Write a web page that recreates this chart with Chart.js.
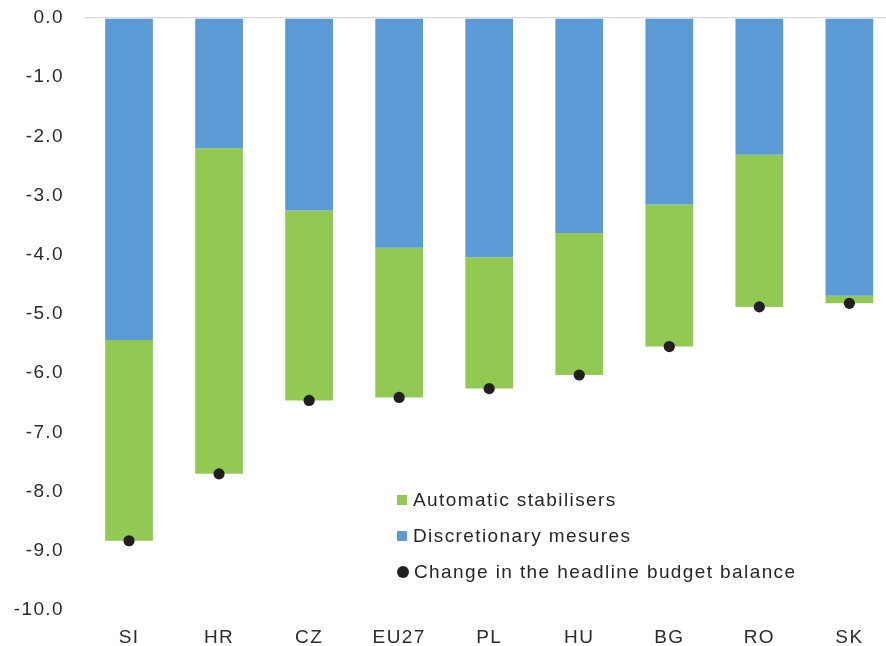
<!DOCTYPE html>
<html>
<head>
<meta charset="utf-8">
<script src="https://cdn.jsdelivr.net/npm/chart.js@4"></script>
<style>
  html, body { margin: 0; padding: 0; background: #fff; overflow: hidden; width: 886px; height: 646px; }
  #wrap { position: absolute; left: 0; top: 0; width: 900px; height: 646px; }
  #legend { position: absolute; left: 397px; top: 482px; font-family: "Liberation Sans", Arial, sans-serif; font-size: 19px; letter-spacing: 1.4px; color: #262626; }
  #legend .row { height: 36px; display: flex; align-items: center; white-space: nowrap; }
  #legend .sw { width: 10px; height: 10px; margin-right: 6px; flex: none; }
  #legend .dot { width: 12px; height: 12px; border-radius: 50%; margin-right: 5px; flex: none; }
</style>
</head>
<body>
<div id="wrap"><canvas id="c"></canvas></div>
<div id="legend"></div>
<script>
const categories = ["SI", "HR", "CZ", "EU27", "PL", "HU", "BG", "RO", "SK"];
const discretionary = [-5.44, -2.20, -3.25, -3.88, -4.04, -3.63, -3.15, -2.31, -4.69];
const automatic = [-3.39, -5.50, -3.21, -2.53, -2.22, -2.40, -2.40, -2.57, -0.13];
const headline = [-8.83, -7.70, -6.46, -6.41, -6.26, -6.03, -5.55, -4.88, -4.82];
const yTicks = [0, -1, -2, -3, -4, -5, -6, -7, -8, -9, -10];
const legendOrder = ["Automatic stabilisers", "Discretionary mesures", "Change in the headline budget balance"];

const BLUE = "#5B9BD5", GREEN = "#92C953", BLACK = "#231F20", TEXT = "#2b2b2b";

const spacing = {
  id: "spacing",
  beforeUpdate(chart) { chart.ctx.letterSpacing = "1.4px"; },
  beforeLayout(chart) { chart.ctx.letterSpacing = "1.4px"; },
  beforeDraw(chart) { chart.ctx.letterSpacing = "1.4px"; }
};

const chart = new Chart(document.getElementById("c"), {
  data: {
    labels: categories,
    datasets: [
      { type: "bar", label: "Discretionary mesures", data: discretionary, backgroundColor: BLUE, stack: "bars", order: 1 },
      { type: "bar", label: "Automatic stabilisers", data: automatic, backgroundColor: GREEN, stack: "bars", order: 1 },
      { type: "line", label: "Change in the headline budget balance", data: headline, showLine: false,
        pointRadius: 5.6, pointHoverRadius: 5.6, pointBackgroundColor: BLACK, pointBorderColor: BLACK, pointBorderWidth: 0,
        stack: "dots", order: 0 }
    ]
  },
  plugins: [spacing],
  options: {
    responsive: true,
    maintainAspectRatio: false,
    animation: false,
    events: [],
    layout: { padding: { top: 18, right: 1, bottom: 0, left: 0 } },
    datasets: { bar: { barPercentage: 1, categoryPercentage: 0.53, borderWidth: 0 } },
    plugins: { legend: { display: false }, tooltip: { enabled: false } },
    font: { family: "'Liberation Sans', Arial, sans-serif", size: 19 },
    scales: {
      x: {
        stacked: true,
        grid: { display: false, drawTicks: false },
        border: { display: false },
        ticks: { color: TEXT, font: { size: 19 }, padding: 16, maxRotation: 0, autoSkip: false },
        afterFit(s) { s.height = 36; }
      },
      y: {
        stacked: true,
        min: -10, max: 0,
        afterBuildTicks(s) { s.ticks = yTicks.map(v => ({ value: v })); },
        ticks: { color: TEXT, font: { size: 19 }, padding: 0, callback: v => Number(v).toFixed(1) },
        grid: { drawTicks: true, tickLength: 20, tickColor: "rgba(0,0,0,0)", lineWidth: 1.3,
                color: ctx => (ctx.tick && ctx.tick.value === 0) ? "#d9d9d9" : "rgba(0,0,0,0)" },
        border: { display: false },
        afterFit(s) { s.width = 84; }
      }
    }
  }
});

// HTML legend built from the chart datasets
const leg = document.getElementById("legend");
legendOrder.forEach(name => {
  const ds = chart.data.datasets.find(d => d.label === name);
  const row = document.createElement("div");
  row.className = "row";
  const sw = document.createElement("span");
  if (ds.type === "line") { sw.className = "dot"; sw.style.background = ds.pointBackgroundColor; }
  else { sw.className = "sw"; sw.style.background = ds.backgroundColor; }
  const t = document.createElement("span");
  t.textContent = ds.label;
  row.appendChild(sw); row.appendChild(t);
  leg.appendChild(row);
});
</script>
</body>
</html>
